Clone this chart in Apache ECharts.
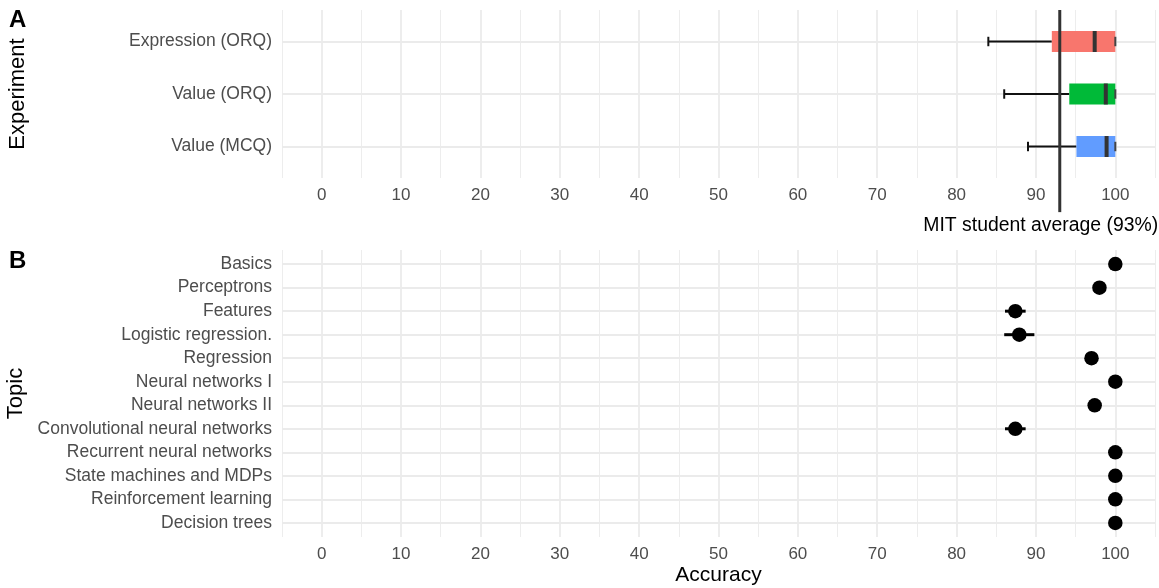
<!DOCTYPE html>
<html><head><meta charset="utf-8">
<script src="https://cdn.jsdelivr.net/npm/echarts@6/dist/echarts.min.js"></script>
<style>html,body{margin:0;padding:0;background:#fff}#c{width:1159px;height:588px}</style>
</head><body><div id="c"></div>
<script>
// ---- data ----
const experiments = ['Expression (ORQ)', 'Value (ORQ)', 'Value (MCQ)'];
const expColors = ['#F8766D', '#00BA38', '#619CFF'];
const expLow = [84, 86, 89];
const expQ1 = [92, 94.2, 95.1];
const expMedian = [97.4, 98.8, 98.9];
const expQ3 = [100, 100, 100];
const expHigh = [100, 100, 100];
const studentAverage = 93;
const studentLabel = 'MIT student average (93%)';

const topics = ['Basics', 'Perceptrons', 'Features', 'Logistic regression.', 'Regression',
  'Neural networks I', 'Neural networks II', 'Convolutional neural networks',
  'Recurrent neural networks', 'State machines and MDPs', 'Reinforcement learning', 'Decision trees'];
const topicAccuracy = [100, 98, 87.4, 87.9, 97, 100, 97.4, 87.4, 100, 100, 100, 100];
const topicLow  = [null, null, 86.1, 86.0, null, null, null, 86.1, null, null, null, null];
const topicHigh = [null, null, 88.7, 89.8, null, null, null, 88.7, null, null, null, null];

const xTicks = [0, 10, 20, 30, 40, 50, 60, 70, 80, 90, 100];
const xMinorTicks = [-5, 5, 15, 25, 35, 45, 55, 65, 75, 85, 95, 105];

// ---- chart ----
const FONT = 'Liberation Sans';
const GRID_COL = '#ebebeb';
const chart = echarts.init(document.getElementById('c'), null, {renderer: 'canvas'});

function majorX(g, extra) {
  return Object.assign({
    gridIndex: g, type: 'value', min: -5, max: 105, position: 'bottom',
    axisLine: {show: false},
    axisTick: {show: false, customValues: xTicks},
    axisLabel: {customValues: xTicks, color: '#4d4d4d', fontSize: 17, margin: 9, fontFamily: FONT},
    splitLine: {show: true, lineStyle: {color: GRID_COL, width: 1.8}}
  }, extra || {});
}
function minorX(g) {
  return {
    gridIndex: g, type: 'value', min: -5, max: 105, position: 'bottom', offset: 0,
    axisLine: {show: false},
    axisTick: {show: false, customValues: xMinorTicks},
    axisLabel: {show: false},
    splitLine: {show: true, lineStyle: {color: GRID_COL, width: 0.9}}
  };
}
function catY(g, names, name, gap) {
  const idx = names.map((_, i) => i);
  return {
    gridIndex: g, type: 'value', min: -0.6, max: names.length - 0.4, inverse: true,
    axisLine: {show: false},
    axisTick: {show: false, customValues: idx},
    axisLabel: {customValues: idx, formatter: v => names[Math.round(v)], color: '#4d4d4d',
      fontSize: 17.5, margin: 10, fontFamily: FONT},
    splitLine: {show: true, lineStyle: {color: GRID_COL, width: 1.8}},
    name: name, nameLocation: 'middle', nameGap: gap,
    nameTextStyle: {fontSize: 22, color: '#000', fontFamily: FONT}
  };
}

const option = {
  animation: false,
  backgroundColor: '#fff',
  textStyle: {fontFamily: FONT},
  title: [
    {text: 'A', left: 9, top: 8, padding: 0, textStyle: {fontSize: 24, fontWeight: 'bold', color: '#000', fontFamily: FONT}},
    {text: 'B', left: 9, top: 249, padding: 0, textStyle: {fontSize: 24, fontWeight: 'bold', color: '#000', fontFamily: FONT}}
  ],
  grid: [
    {left: 282, top: 10, width: 873, height: 168, containLabel: false, outerBoundsMode: 'none'},
    {left: 282, top: 250, width: 873, height: 287, containLabel: false, outerBoundsMode: 'none'}
  ],
  xAxis: [
    majorX(0),
    minorX(0),
    majorX(1, {name: 'Accuracy', nameLocation: 'middle', nameGap: 28,
      nameTextStyle: {fontSize: 21, color: '#000', fontFamily: FONT}}),
    minorX(1)
  ],
  yAxis: [
    catY(0, experiments, 'Experiment', 253),
    catY(1, topics, 'Topic', 253)
  ],
  series: [
    {
      type: 'custom', xAxisIndex: 0, yAxisIndex: 0, z: 3,
      data: experiments.map((_, i) => [i, expLow[i], expQ1[i], expMedian[i], expQ3[i], expHigh[i]]),
      encode: {y: 0, x: [1, 2, 3, 4, 5]},
      renderItem: function (params, api) {
        const i = params.dataIndex;
        const y = api.value(0);
        const c = v => api.coord([v, y]);
        const unit = Math.abs(api.size([0, 1])[1]);
        const boxH = unit * 0.4, capH = unit * 0.18;
        const pLo = c(api.value(1)), pQ1 = c(api.value(2)), pMed = c(api.value(3)),
              pQ3 = c(api.value(4)), pHi = c(api.value(5));
        const cy = pLo[1];
        return {type: 'group', children: [
          {type: 'line', shape: {x1: pLo[0], y1: cy, x2: pQ1[0], y2: cy}, style: {stroke: '#111', lineWidth: 2}},
          {type: 'line', shape: {x1: pLo[0], y1: cy - capH / 2, x2: pLo[0], y2: cy + capH / 2}, style: {stroke: '#111', lineWidth: 2}},
          {type: 'rect', shape: {x: pQ1[0], y: cy - boxH / 2, width: pQ3[0] - pQ1[0], height: boxH}, style: {fill: expColors[i]}},
          {type: 'line', shape: {x1: pMed[0], y1: cy - boxH / 2, x2: pMed[0], y2: cy + boxH / 2}, style: {stroke: '#333', lineWidth: 4}},
          {type: 'line', shape: {x1: pHi[0], y1: cy - capH / 2, x2: pHi[0], y2: cy + capH / 2}, style: {stroke: '#444', lineWidth: 2}}
        ]};
      }
    },
    {
      type: 'custom', xAxisIndex: 0, yAxisIndex: 0, z: 4, clip: false,
      data: [[studentAverage, -0.6]],
      encode: {x: 0, y: 1},
      renderItem: function (params, api) {
        const top = api.coord([api.value(0), -0.6]);
        const bot = api.coord([api.value(0), 3.25]);
        return {type: 'group', children: [
          {type: 'line', shape: {x1: top[0], y1: top[1], x2: bot[0], y2: bot[1]}, style: {stroke: '#333', lineWidth: 3}},
          {type: 'text', x: top[0] - 19, y: bot[1] + 14,
            style: {text: studentLabel, fill: '#000', font: '19.4px "Liberation Sans"', align: 'center', verticalAlign: 'middle'}}
        ]};
      }
    },
    {
      type: 'custom', xAxisIndex: 2, yAxisIndex: 1, z: 3,
      data: topics.map((_, i) => [i, topicLow[i], topicHigh[i]]).filter(d => d[1] != null),
      encode: {y: 0, x: [1, 2]},
      renderItem: function (params, api) {
        const y = api.value(0);
        const a = api.coord([api.value(1), y]), b = api.coord([api.value(2), y]);
        return {type: 'line', shape: {x1: a[0], y1: a[1], x2: b[0], y2: b[1]}, style: {stroke: '#000', lineWidth: 3}};
      }
    },
    {
      type: 'scatter', xAxisIndex: 2, yAxisIndex: 1, z: 4,
      symbol: 'circle', symbolSize: 14.5,
      itemStyle: {color: '#000', opacity: 1},
      data: topicAccuracy.map((v, i) => [v, i])
    }
  ]
};
chart.setOption(option);
</script>
</body></html>
